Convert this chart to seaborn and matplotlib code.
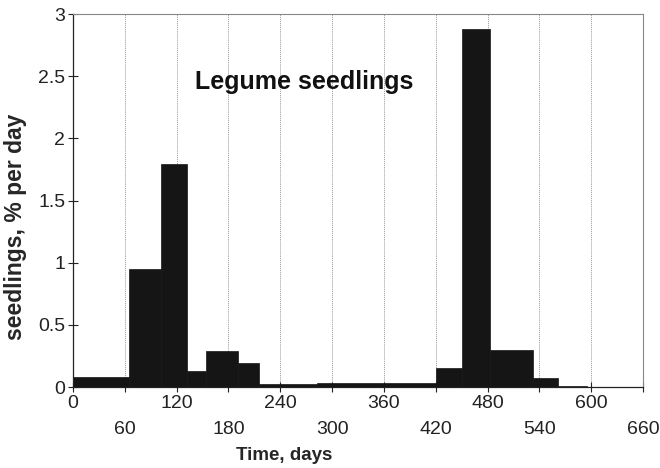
import numpy as np
import pandas as pd
import seaborn as sns
from matplotlib import pyplot as plt
from matplotlib.ticker import FuncFormatter

# bin edges (days) and emergence rate per bin (% per day)
bin_edges = [0, 65, 102, 132, 154, 191, 215, 282, 420, 451, 483, 533, 562, 595]
rates = [0.08, 0.95, 1.79, 0.13, 0.29, 0.195, 0.022, 0.033, 0.15, 2.88, 0.30, 0.075, 0.01]
upper_ticks = [0, 120, 240, 360, 480, 600]
lower_ticks = [60, 180, 300, 420, 540, 660]
y_ticks = [0, 0.5, 1, 1.5, 2, 2.5, 3]

edges = np.array(bin_edges)
df = pd.DataFrame({'day': (edges[:-1] + edges[1:]) / 2, 'rate': rates})

sns.set_style('white')
plt.rcParams['font.family'] = ['Liberation Sans', 'DejaVu Sans']

fig = plt.figure(figsize=(6.6, 4.68), dpi=100)
ax = fig.add_axes([0.1106, 0.173, 0.8636, 0.797])

# vertical grid lines
for d in sorted(upper_ticks + lower_ticks)[1:-1]:
    ax.axvline(d, color='#999999', lw=0.7, ls=(0, (1, 1)), zorder=0)

sns.histplot(data=df, x='day', weights='rate', bins=bin_edges, stat='count',
             color='#151515', edgecolor='#151515', linewidth=0.5, alpha=1,
             ax=ax, zorder=2)

ax.set_xlim(0, 660)
ax.set_ylim(0, 3)
ax.set_xticks(upper_ticks)
ax.set_xticklabels([str(d) for d in upper_ticks])
ax.set_xticks(lower_ticks, minor=True)
ax.set_xticklabels([str(d) for d in lower_ticks], minor=True)
ax.set_yticks(y_ticks)
ax.yaxis.set_major_formatter(FuncFormatter(lambda v, p: '%g' % v))
ax.tick_params(axis='both', which='both', direction='inout', length=7, width=0.8,
               labelsize=14, colors='#222222', bottom=True, left=True)
ax.tick_params(axis='x', which='major', pad=2)
ax.tick_params(axis='x', which='minor', pad=21)
ax.tick_params(axis='y', pad=2)

for s in ['left', 'bottom']:
    ax.spines[s].set_color('#222222')
    ax.spines[s].set_linewidth(0.9)
for s in ['top', 'right']:
    ax.spines[s].set_color('#888888')
    ax.spines[s].set_linewidth(0.8)

ax.set_xlabel('Time, days', fontsize=13.5, fontweight='bold')
ax.xaxis.set_label_coords(0.37, -0.162)
ax.set_ylabel('seedlings, % per day', fontsize=16.5, fontweight='bold')
ax.yaxis.set_label_coords(-0.08, 0.43)

ax.text(268, 2.45, 'Legume seedlings', fontsize=18, fontweight='bold',
        ha='center', va='center', color='#111111')

fig.savefig('out.png', dpi=100)
